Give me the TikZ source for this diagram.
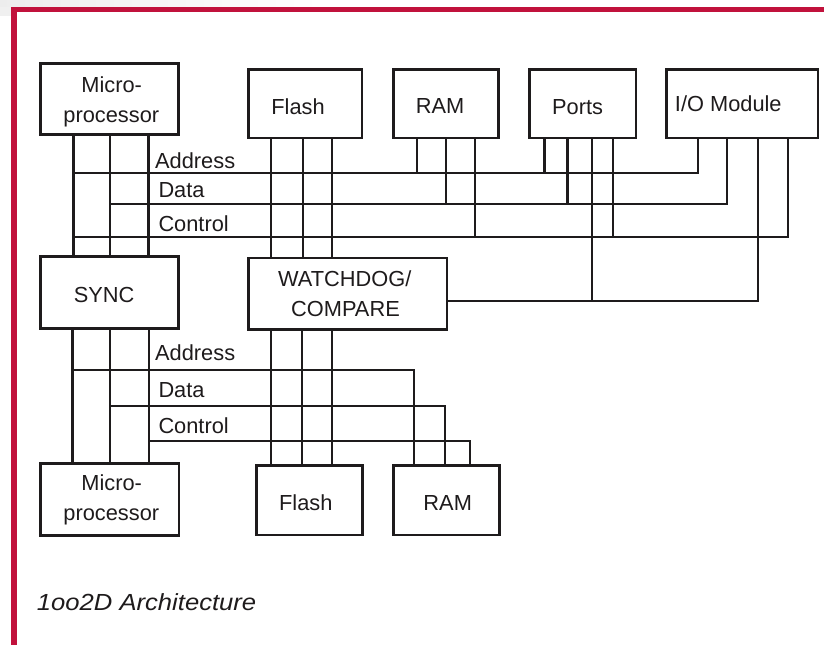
\documentclass[tikz,border=0pt]{standalone}
\usepackage{fontspec}
\setmainfont{Liberation Sans}
\usetikzlibrary{calc}
\definecolor{framered}{RGB}{193,18,60}
\definecolor{ink}{RGB}{30,27,28}
\begin{document}
\begin{tikzpicture}[x=1pt,y=-1pt,
  box/.style={draw=ink, line width=2.8pt, inner sep=0pt},
  wire/.style={draw=ink, line width=2.4pt},
  txt/.style={text=ink, inner sep=0pt, anchor=base, font=\fontsize{21.8}{26}\selectfont},
  buslabel/.style={txt, anchor=base west}]
\useasboundingbox (0,0) rectangle (824,645);
% frame
\shade[left color=gray!14, right color=white] (0,0) rectangle (320,6.7);
\fill[gray!12] (0,6.7) rectangle (11,16);
\fill[framered] (11,6.7) rectangle (824,12);
\fill[framered] (11,6.7) rectangle (16.7,645);

% boxes
\node[box, minimum width=137.9pt, minimum height=70.9pt] (mp1) at (109.7,99.2) {};
\node[box, minimum width=113.6pt, minimum height=68.8pt] (fl1) at (305.2,103.5) {};
\node[box, minimum width=105.2pt, minimum height=68.6pt] (ram1) at (445.7,103.7) {};
\node[box, minimum width=106.2pt, minimum height=68.6pt] (ports) at (582.8,103.7) {};
\node[box, minimum width=151.5pt, minimum height=68.8pt] (io) at (742.2,103.5) {};
\node[box, minimum width=137.9pt, minimum height=72.2pt] (sync) at (109.7,292.5) {};
\node[box, minimum width=198.8pt, minimum height=71.5pt] (wd) at (347.5,293.8) {};
\node[box, minimum width=138.2pt, minimum height=71.9pt] (mp2) at (109.8,499.3) {};
\node[box, minimum width=106.2pt, minimum height=69.8pt] (fl2) at (309.5,500) {};
\node[box, minimum width=106.2pt, minimum height=69.8pt] (ram2) at (446.2,500) {};

% box texts
\node[txt] (mp1a) at (111.7,92.7) {Micro-};
\node[txt] (mp1b) at (111.3,122.7) {processor};
\node[txt] (fl1t) at (298,114) {Flash};
\node[txt] (ram1t) at (440,113.5) {RAM};
\node[txt] (portst) at (577.6,114) {Ports};
\node[txt] (iot) at (728.3,111) {I/O Module};
\node[txt] (synct) at (104.2,302.7) {SYNC};
\node[txt] (wda) at (344.7,286) {WATCHDOG/};
\node[txt] (wdb) at (345.5,316) {COMPARE};
\node[txt] (mp2a) at (111.7,490) {Micro-};
\node[txt] (mp2b) at (111.3,520) {processor};
\node[txt] (fl2t) at (305.8,510) {Flash};
\node[txt] (ram2t) at (447.7,510) {RAM};

% bus labels
\node[buslabel] (adrU) at (155,168.3) {Address};
\node[buslabel] (datU) at (158.3,197.7) {Data};
\node[buslabel] (ctlU) at (158.3,231.7) {Control};
\node[buslabel] (adrL) at (155,360) {Address};
\node[buslabel] (datL) at (158.3,397.7) {Data};
\node[buslabel] (ctlL) at (158.3,433.3) {Control};

% caption
\node[text=ink, inner sep=0pt, anchor=base west, font=\fontsize{23.3}{28}\selectfont\itshape] (cap) at (36.7,610.7) {\scalebox{1.1}[1]{1oo2D Architecture}};

% upper bus coordinates
\coordinate (aU) at (73.3,172.7);
\coordinate (dU) at (110,204);
\coordinate (cU) at (73.3,236.8);
\coordinate (wU) at (591.7,300.7);

% micro -> sync verticals
\draw[wire] (mp1.south -| 73.3,0) -- (sync.north -| 73.3,0);
\draw[wire] (mp1.south -| 110,0) -- (sync.north -| 110,0);
\draw[wire] (mp1.south -| 148.3,0) -- (sync.north -| 148.3,0);
% flash -> watchdog verticals
\draw[wire] (fl1.south -| 270.7,0) -- (wd.north -| 270.7,0);
\draw[wire] (fl1.south -| 302.7,0) -- (wd.north -| 302.7,0);
\draw[wire] (fl1.south -| 331.7,0) -- (wd.north -| 331.7,0);
% upper buses
\draw[wire] (aU) -- (697.7,172.7) -- (io.south -| 697.7,0);
\draw[wire] (dU) -- (726.7,204) -- (io.south -| 726.7,0);
\draw[wire] (cU) -- (788,236.8) -- (io.south -| 788,0);
% RAM taps
\draw[wire] (ram1.south -| 416.7,0) -- (416.7,172.7);
\draw[wire] (ram1.south -| 445.7,0) -- (445.7,204);
\draw[wire] (ram1.south -| 475,0) -- (475,236.8);
% Ports taps
\draw[wire] (ports.south -| 544.3,0) -- (544.3,172.7);
\draw[wire] (ports.south -| 567.3,0) -- (567.3,204);
\draw[wire] (ports.south -| 612.7,0) -- (612.7,236.8);
\draw[wire] (ports.south -| 591.7,0) -- (wU);
% watchdog line
\draw[wire] (wd.east |- wU) -- (757.7,300.7) -- (io.south -| 757.7,0);

% sync -> micro verticals
\draw[wire] (sync.south -| 72.3,0) -- (mp2.north -| 72.3,0);
\draw[wire] (sync.south -| 110,0) -- (mp2.north -| 110,0);
\draw[wire] (sync.south -| 149,0) -- (mp2.north -| 149,0);
% watchdog -> flash verticals
\draw[wire] (wd.south -| 270.7,0) -- (fl2.north -| 270.7,0);
\draw[wire] (wd.south -| 301.7,0) -- (fl2.north -| 301.7,0);
\draw[wire] (wd.south -| 331.7,0) -- (fl2.north -| 331.7,0);
% lower buses
\coordinate (aL) at (72.3,370);
\coordinate (dL) at (110,405.7);
\coordinate (cL) at (149,440.7);
\draw[wire] (aL) -- (413.7,370) -- (ram2.north -| 413.7,0);
\draw[wire] (dL) -- (445,405.7) -- (ram2.north -| 445,0);
\draw[wire] (cL) -- (469.7,440.7) -- (ram2.north -| 469.7,0);
\end{tikzpicture}
\end{document}
